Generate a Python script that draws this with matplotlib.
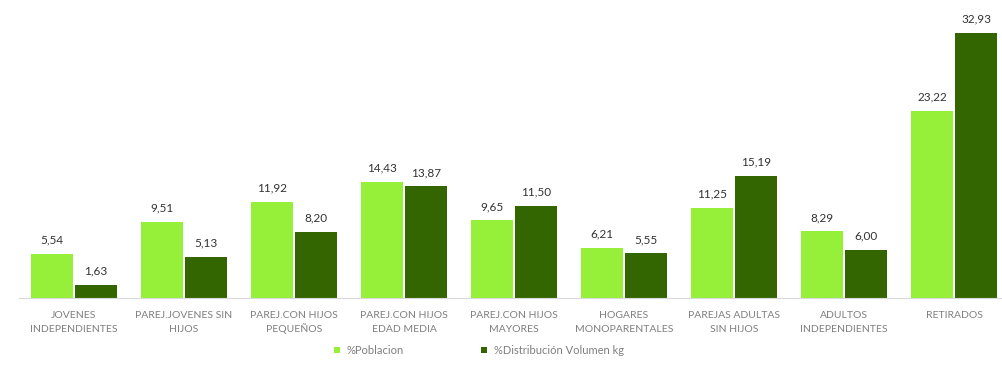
import matplotlib
matplotlib.use('Agg')
import matplotlib.pyplot as plt
import matplotlib.transforms as mtransforms
import numpy as np

# ------------------------------------------------------------
# Data
# ------------------------------------------------------------
categories = ["JOVENES\nINDEPENDIENTES", "PAREJ.JOVENES SIN\nHIJOS", "PAREJ.CON HIJOS\nPEQUEÑOS",
              "PAREJ.CON HIJOS\nEDAD MEDIA", "PAREJ.CON HIJOS\nMAYORES", "HOGARES\nMONOPARENTALES",
              "PAREJAS ADULTAS\nSIN HIJOS", "ADULTOS\nINDEPENDIENTES", "RETIRADOS"]
poblacion = [5.54, 9.51, 11.92, 14.43, 9.65, 6.21, 11.25, 8.29, 23.22]
volumen = [1.63, 5.13, 8.20, 13.87, 11.50, 5.55, 15.19, 6.00, 32.93]
series_names = ["%Poblacion", "%Distribución Volumen kg"]

light_green = '#96f03a'
dark_green = '#336600'

plt.rcParams['font.family'] = ['Lato', 'DejaVu Sans']

fig = plt.figure(figsize=(10.02, 3.69), dpi=100)
ax = fig.add_axes([0.019, 0.192, 0.988, 0.786])

x = np.arange(len(categories))
w = 0.39
b1 = ax.bar(x - 0.2, poblacion, w, color=light_green, label=series_names[0])
b2 = ax.bar(x + 0.2, volumen, w, color=dark_green, label=series_names[1])

for bars, vals in ((b1, poblacion), (b2, volumen)):
    for rect, v in zip(bars, vals):
        ax.annotate(f"{v:.2f}".replace('.', ','),
                    (rect.get_x() + rect.get_width() / 2, rect.get_height()),
                    xytext=(0, 6), textcoords='offset points',
                    ha='center', va='bottom', fontsize=8.5, color='#333333')

ax.set_xlim(-0.5, 8.5)
ax.set_ylim(0, 36)
ax.set_xticks(x)
ax.set_xticklabels([])
ax.tick_params(axis='x', length=0)
ax.set_yticks([])
for s in ['top', 'right', 'left']:
    ax.spines[s].set_visible(False)
ax.spines['bottom'].set_color('#d9d9d9')

# category labels, one text per line so accents don't shift lines
trans = mtransforms.blended_transform_factory(ax.transData, fig.transFigure)
for xi, lab in zip(x, categories):
    for j, line in enumerate(lab.split('\n')):
        ax.text(xi, (369 - 316 - 13 * j) / 369, line, transform=trans,
                ha='center', va='center', fontsize=7.5, color='#7f7f7f')

leg = fig.legend(handles=[b1, b2], labels=series_names, loc='center',
                 bbox_to_anchor=(0.478, 0.05), ncol=2, frameon=False,
                 fontsize=8, handlelength=0.5, handleheight=0.5,
                 columnspacing=7.0, handletextpad=0.6)
for t in leg.get_texts():
    t.set_color('#7f7f7f')

fig.savefig('out.png', dpi=100)
